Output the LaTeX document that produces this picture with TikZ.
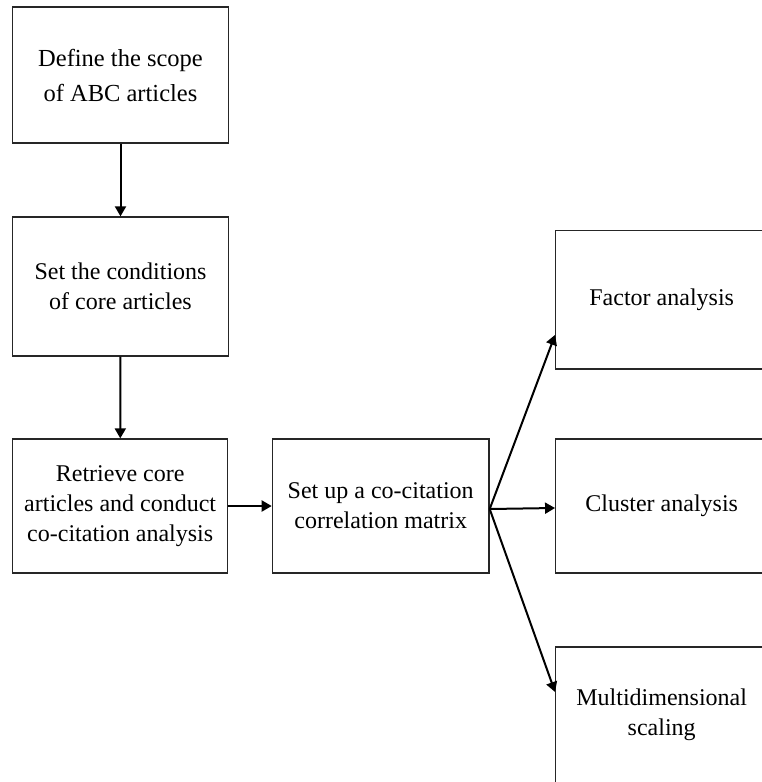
\documentclass[tikz,border=0pt]{standalone}
\usepackage{fontspec}
\setmainfont{Liberation Serif}
\usetikzlibrary{arrows.meta}
\begin{document}
\begin{tikzpicture}[x=1pt,y=-1pt,
  box/.style={draw=black!85, line width=1.3pt, align=center, inner sep=0pt,
              font=\fontsize{24}{30}\selectfont},
  arr/.style={line width=2pt, -{Triangle[length=10pt,width=11pt]}}]
\useasboundingbox (0,0) rectangle (762,782);
\node[box, minimum width=215.6pt, minimum height=136pt,
      font=\fontsize{24.5}{35}\selectfont] (b1) at (120.5,75) {Define the scope\\of ABC articles};
\node[box, minimum width=215.6pt, minimum height=139pt] (b2) at (120.5,286.5) {Set the conditions\\of core articles};
\node[box, minimum width=215pt, minimum height=134pt] (b3) at (120.2,506) {Retrieve core\\articles and conduct\\co-citation analysis};
\node[box, minimum width=216.7pt, minimum height=134pt] (b4) at (380.7,506) {Set up a co-citation\\correlation matrix};
\node[box, minimum width=212pt, minimum height=138.3pt] (b5) at (661.7,299.9) {Factor analysis};
\node[box, minimum width=212pt, minimum height=134pt] (b6) at (661.7,506) {Cluster analysis};
\node[box, minimum width=212pt, minimum height=136pt] (b7) at (661.7,715) {Multidimensional\\scaling};
\coordinate (fork) at ([yshift=-3pt]b4.east);
\draw[arr] (b1) -- (b2);
\draw[arr] (b2) -- (b3);
\draw[arr] (b3.east) -- (b4.west);
\draw[arr] (fork) -- ([yshift=-35pt]b5.west);
\draw[arr] (fork) -- ([yshift=-2pt]b6.west);
\draw[arr] (fork) -- ([yshift=23pt]b7.west);
\end{tikzpicture}
\end{document}
